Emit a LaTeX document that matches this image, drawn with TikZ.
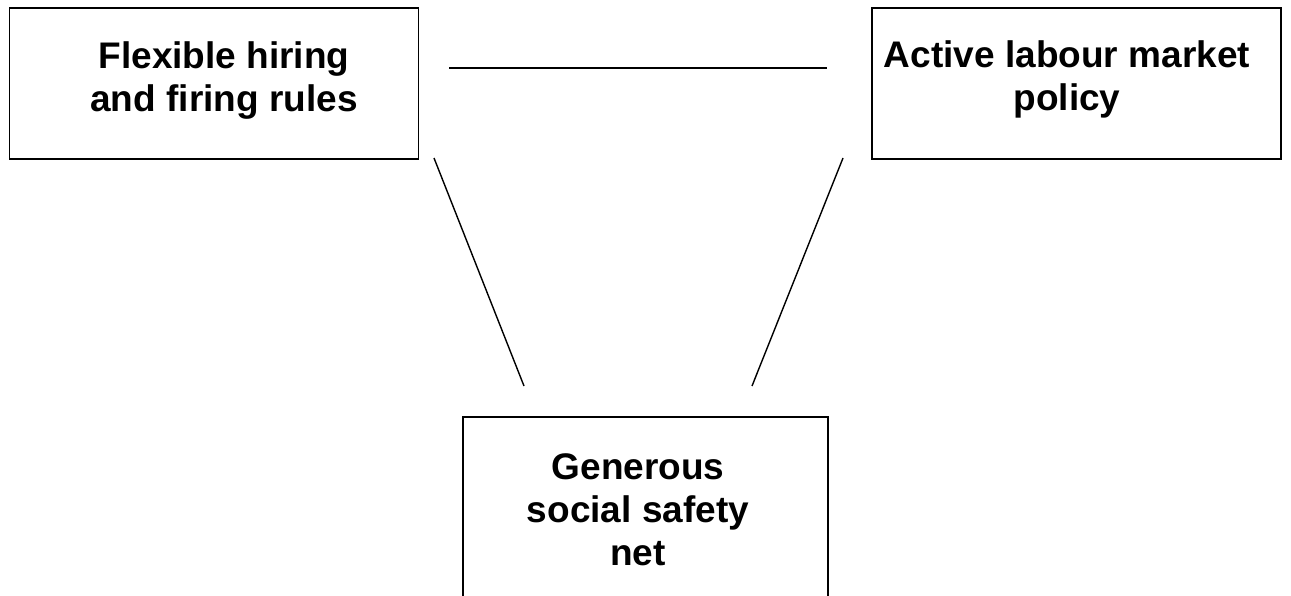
\documentclass[tikz,border=0pt]{standalone}
\usepackage{fontspec}
\setmainfont{Liberation Sans}
\begin{document}
\begin{tikzpicture}[x=1pt,y=-1pt,
  box/.style={draw, line width=1.3pt, inner sep=0pt},
  boxtext/.style={font=\bfseries\fontsize{37}{43}\selectfont, align=center, inner sep=0pt, anchor=base},
  link/.style={line width=1.4pt}]
\useasboundingbox (0,0) rectangle (1291,596);
\clip (0,0) rectangle (1291,596);

% boxes
\node[box, minimum width=409pt, minimum height=151pt] (flex) at (214,83.5) {};
\node[box, minimum width=409pt, minimum height=151pt] (active) at (1076.5,83.5) {};
\node[box, minimum width=365pt, minimum height=220pt] (safety) at (645.5,527) {};

% texts (base = last line)
\node[boxtext] (flextext) at (224,112) {Flexible hiring\\and firing rules};
\node[boxtext] (activetext) at (1067,111) {Active labour market\\policy};
\node[boxtext] (safetytext) at (638,565) {Generous\\social safety\\net};

% line ends
\coordinate (topleft) at (449,68);
\coordinate (topright) at (827,68);
\coordinate (leftup) at (434,158);
\coordinate (leftdown) at (524,386);
\coordinate (rightup) at (843,158);
\coordinate (rightdown) at (752,386);

\draw[link] (topleft) -- (topright);
\draw[link] (leftup) -- (leftdown);
\draw[link] (rightup) -- (rightdown);
\end{tikzpicture}
\end{document}
